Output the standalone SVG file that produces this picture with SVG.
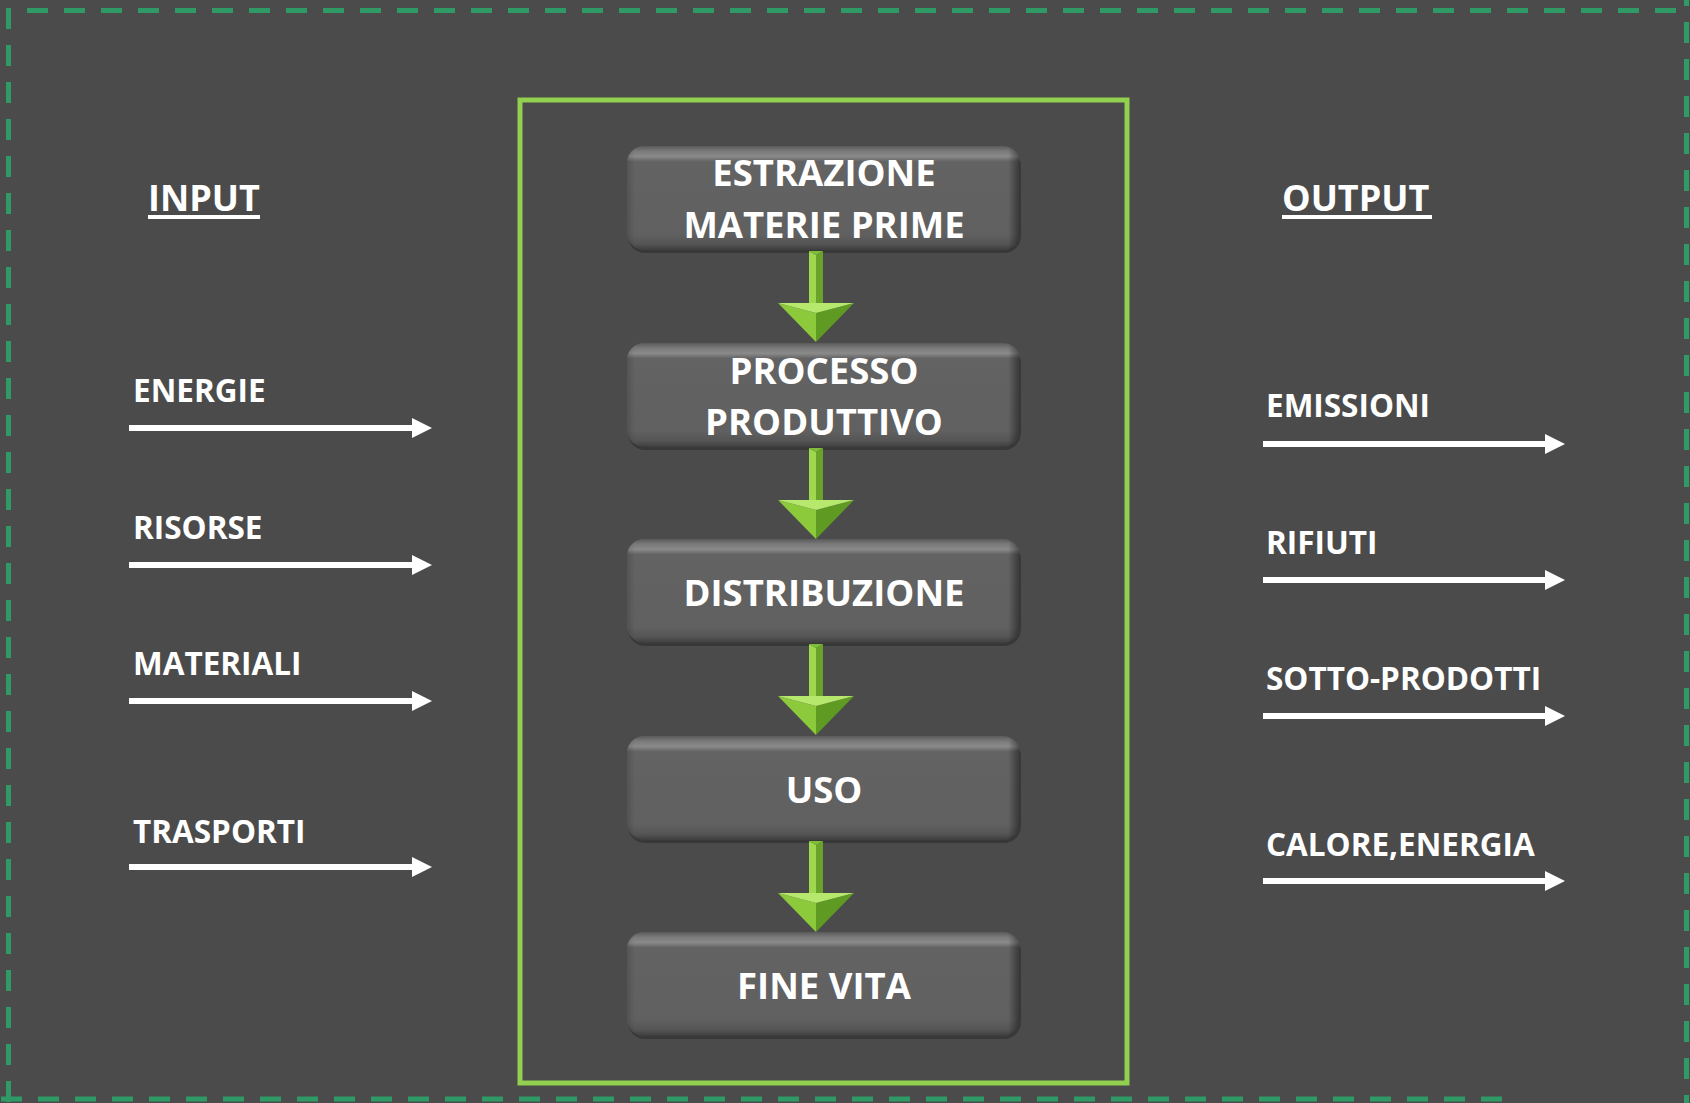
<svg xmlns="http://www.w3.org/2000/svg" xmlns:xlink="http://www.w3.org/1999/xlink" width="1690" height="1103" viewBox="0 0 1690 1103">
  <defs>
    <style>
      .box-text { font-family: "Open Sans", "Liberation Sans", sans-serif; font-weight: 700; font-size: 36.5px; fill: #ffffff; text-anchor: middle; }
      .title { font-family: "Open Sans", "Liberation Sans", sans-serif; font-weight: 700; font-size: 36px; fill: #ffffff; }
      .label { font-family: "Open Sans", "Liberation Sans", sans-serif; font-weight: 700; font-size: 31.5px; fill: #ffffff; }
      .border { stroke: #2f9a66; stroke-width: 5; stroke-dasharray: 21 16; fill: none; }
      .flow { stroke: #ffffff; stroke-width: 6; fill: none; }
      .ul { stroke: #ffffff; stroke-width: 4; }
    </style>
    <linearGradient id="boxV" x1="0" y1="0" x2="0" y2="1">
      <stop offset="0" stop-color="#5a5a5a"/>
      <stop offset="0.05" stop-color="#7a7a7a"/>
      <stop offset="0.10" stop-color="#8a8a8a"/>
      <stop offset="0.15" stop-color="#636363"/>
      <stop offset="0.85" stop-color="#606060"/>
      <stop offset="0.94" stop-color="#555555"/>
      <stop offset="1" stop-color="#3e3e3e"/>
    </linearGradient>
    <linearGradient id="boxH" x1="0" y1="0" x2="1" y2="0">
      <stop offset="0" stop-color="#000000" stop-opacity="0.15"/>
      <stop offset="0.02" stop-color="#000000" stop-opacity="0"/>
      <stop offset="0.97" stop-color="#000000" stop-opacity="0"/>
      <stop offset="1" stop-color="#000000" stop-opacity="0.45"/>
    </linearGradient>
    <g id="box">
      <rect x="1" y="3" width="393" height="104" rx="17" fill="#383838"/>
      <rect x="0" y="0" width="393" height="104" rx="17" fill="url(#boxV)"/>
      <rect x="0" y="0" width="393" height="104" rx="17" fill="url(#boxH)"/>
    </g>
    <g id="garrow">
      <polygon points="-7,0 0,4 0,54 -7,54" fill="#9fd84e"/>
      <polygon points="0,4 7,0 7,54 0,54" fill="#6aa22a"/>
      <polygon points="-7,0 7,0 0,4" fill="#7fbf38"/>
      <polygon points="-38,52 0,62 0,91" fill="#8cca3c"/>
      <polygon points="38,52 0,62 0,91" fill="#5f9a22"/>
      <polygon points="-38,52 38,52 0,62" fill="#b5e86c"/>
    </g>
  </defs>

  <rect x="0" y="0" width="1690" height="1103" fill="#4b4b4b"/>

  <g id="outer-border">
    <line class="border" x1="27" y1="10.5" x2="1690" y2="10.5"/>
    <line class="border" x1="8.5" y1="8" x2="8.5" y2="1103"/>
    <line class="border" x1="1686.5" y1="-15" x2="1686.5" y2="1103"/>
    <line class="border" x1="1502" y1="1099" x2="0" y2="1099"/>
  </g>

  <g id="lifecycle-frame">
    <rect x="520" y="100" width="607" height="983" fill="none" stroke="#92d050" stroke-width="5"/>
  </g>

  <g id="node-estrazione">
    <use xlink:href="#box" x="627" y="146"/>
    <text class="box-text" x="824" y="186">ESTRAZIONE</text>
    <text class="box-text" x="824" y="238">MATERIE PRIME</text>
  </g>
  <g id="node-processo">
    <use xlink:href="#box" x="627" y="343"/>
    <text class="box-text" x="824" y="384">PROCESSO</text>
    <text class="box-text" x="824" y="435">PRODUTTIVO</text>
  </g>
  <g id="node-distribuzione">
    <use xlink:href="#box" x="627" y="539"/>
    <text class="box-text" x="824" y="606">DISTRIBUZIONE</text>
  </g>
  <g id="node-uso">
    <use xlink:href="#box" x="627" y="736"/>
    <text class="box-text" x="824" y="803">USO</text>
  </g>
  <g id="node-fine-vita">
    <use xlink:href="#box" x="627" y="932"/>
    <text class="box-text" x="824" y="999">FINE VITA</text>
  </g>

  <g id="node-input">
    <text class="title" x="148" y="211">INPUT</text>
    <line class="ul" x1="148" y1="217" x2="260" y2="217"/>
  </g>
  <g id="node-output">
    <text class="title" x="1282" y="211">OUTPUT</text>
    <line class="ul" x1="1282" y1="217" x2="1432" y2="217"/>
  </g>

  <g id="node-energie"><text class="label" x="133" y="402">ENERGIE</text></g>
  <g id="node-risorse"><text class="label" x="133" y="539">RISORSE</text></g>
  <g id="node-materiali"><text class="label" x="133" y="675">MATERIALI</text></g>
  <g id="node-trasporti"><text class="label" x="133" y="843">TRASPORTI</text></g>

  <g id="node-emissioni"><text class="label" x="1266" y="417">EMISSIONI</text></g>
  <g id="node-rifiuti"><text class="label" x="1266" y="554">RIFIUTI</text></g>
  <g id="node-sotto-prodotti"><text class="label" x="1266" y="690">SOTTO-PRODOTTI</text></g>
  <g id="node-calore-energia"><text class="label" x="1266" y="856">CALORE,ENERGIA</text></g>

  <g id="connectors">
    <use xlink:href="#garrow" x="816" y="251"/>
    <use xlink:href="#garrow" x="816" y="448"/>
    <use xlink:href="#garrow" x="816" y="644"/>
    <use xlink:href="#garrow" x="816" y="841"/>

    <g fill="#ffffff">
      <line class="flow" x1="129" y1="428" x2="414" y2="428"/><polygon points="412,418 432,428 412,438"/>
      <line class="flow" x1="129" y1="565" x2="414" y2="565"/><polygon points="412,555 432,565 412,575"/>
      <line class="flow" x1="129" y1="701" x2="414" y2="701"/><polygon points="412,691 432,701 412,711"/>
      <line class="flow" x1="129" y1="867" x2="414" y2="867"/><polygon points="412,857 432,867 412,877"/>

      <line class="flow" x1="1263" y1="444" x2="1547" y2="444"/><polygon points="1545,434 1565,444 1545,454"/>
      <line class="flow" x1="1263" y1="580" x2="1547" y2="580"/><polygon points="1545,570 1565,580 1545,590"/>
      <line class="flow" x1="1263" y1="716" x2="1547" y2="716"/><polygon points="1545,706 1565,716 1545,726"/>
      <line class="flow" x1="1263" y1="881" x2="1547" y2="881"/><polygon points="1545,871 1565,881 1545,891"/>
    </g>
  </g>
</svg>
